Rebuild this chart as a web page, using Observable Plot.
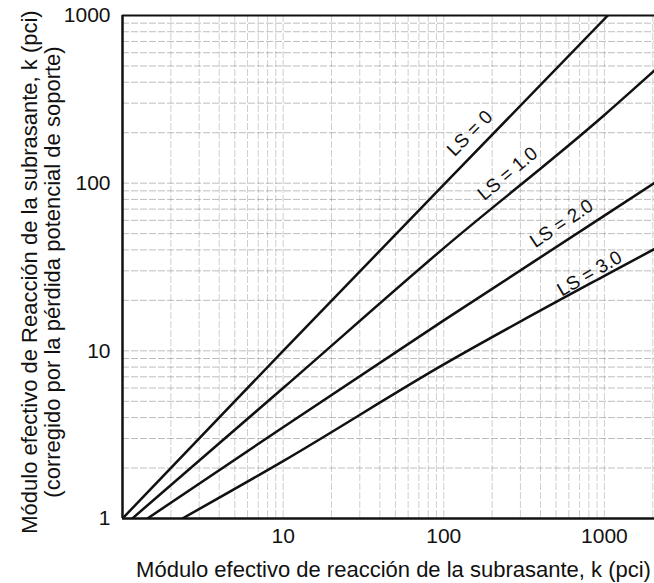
<!DOCTYPE html>
<html><head><meta charset="utf-8">
<script src="https://cdn.jsdelivr.net/npm/d3@7"></script>
<script src="https://cdn.jsdelivr.net/npm/@observablehq/plot@0.6"></script>
<style>body{margin:0;background:#fff}</style>
</head><body><div id="chart"></div>
<script>
// Effective k (input) and corrected k for each loss-of-support (LS) curve
const ls0K  = [1, 10, 100, 1050];
const ls0Kc = [1, 10, 98, 1000];
const ls1K  = [1.15, 10, 100, 1000, 2100];
const ls1Kc = [1, 6.0, 41, 255, 480];
const ls2K  = [1.43, 10, 100, 1000, 2100];
const ls2Kc = [1, 3.5, 15.2, 64, 102];
const ls3K  = [2.36, 10, 100, 1000, 2100];
const ls3Kc = [1, 2.2, 8.3, 28, 41];

const seriesNames = ["LS = 0", "LS = 1.0", "LS = 2.0", "LS = 3.0"];
// label anchor positions (data units) and text angle
const labelK  = [145, 250, 541, 807];
const labelKc = [198, 114, 57.4, 28.9];
const labelAngle = [-45, -40, -33.5, -30];

const xTicks = [10, 100, 1000];
const yTicks = [1, 10, 100, 1000];
const xDomain = [1, 2050];
const yDomain = [1, 1000];

const yLabel = "Módulo efectivo de Reacción de la subrasante, k (pci)\n(corregido por la pérdida potencial de soporte)";
const xLabel = "Módulo efectivo de reacción de la subrasante, k (pci)";

const allK = [ls0K, ls1K, ls2K, ls3K];
const allKc = [ls0Kc, ls1Kc, ls2Kc, ls3Kc];
const lines = [];
allK.forEach((ks, i) => ks.forEach((k, j) => lines.push({series: seriesNames[i], k, kc: allKc[i][j]})));
const labels = seriesNames.map((s, i) => ({s, k: labelK[i], kc: labelKc[i], a: labelAngle[i]}));

const gridX = [];
for (let e = 0; e <= 3; e++) for (let m = 1; m <= 9; m++) { const v = m * 10 ** e; if (v <= xDomain[1]) gridX.push(v); }
const gridY = [];
for (let e = 0; e <= 2; e++) for (let m = 1; m <= 9; m++) gridY.push(m * 10 ** e);
gridY.push(1000);

const font = "Liberation Sans, Arial, Helvetica, sans-serif";

const chart = Plot.plot({
  width: 654, height: 583,
  marginLeft: 122, marginTop: 15, marginBottom: 65, marginRight: 0,
  style: {fontFamily: font, background: "#fff", color: "#111"},
  x: {type: "log", domain: xDomain, axis: null},
  y: {type: "log", domain: yDomain, axis: null},
  marks: [
    Plot.ruleX(gridX, {stroke: "#888", strokeOpacity: 0.5, strokeWidth: 0.8, strokeDasharray: "7,2"}),
    Plot.ruleY(gridY, {stroke: "#777", strokeOpacity: 0.6, strokeWidth: 0.8, strokeDasharray: "7,2"}),
    Plot.line(lines, {x: "k", y: "kc", z: "series", stroke: "#111", strokeWidth: 2.5, curve: "monotone-x", clip: true}),
    Plot.ruleX([xDomain[0]], {stroke: "#111", strokeWidth: 2.5}),
    Plot.ruleY([yDomain[0]], {stroke: "#111", strokeWidth: 2.5}),
    Plot.ruleY([yDomain[1]], {stroke: "#111", strokeWidth: 2.2}),
    Plot.axisY({ticks: yTicks, tickSize: 0, tickPadding: 12, fontSize: 21, label: null, tickFormat: d => String(d)}),
    Plot.axisX({ticks: xTicks, tickSize: 0, tickPadding: 10, fontSize: 21, label: null, tickFormat: d => String(d)}),
    Plot.text(labels, {x: "k", y: "kc", text: "s", rotate: "a", fontSize: 19, fill: "#111"}),
    Plot.text([yLabel], {frameAnchor: "left", textAnchor: "middle", lineAnchor: "middle", dx: -81, dy: 5, rotate: -90, fontSize: 22, lineHeight: 1.05, fill: "#111"}),
    Plot.text([xLabel], {frameAnchor: "bottom", textAnchor: "middle", lineAnchor: "middle", dx: 5, dy: 51, fontSize: 22, fill: "#111"})
  ]
});
document.getElementById("chart").appendChild(chart);
</script>
</body></html>
